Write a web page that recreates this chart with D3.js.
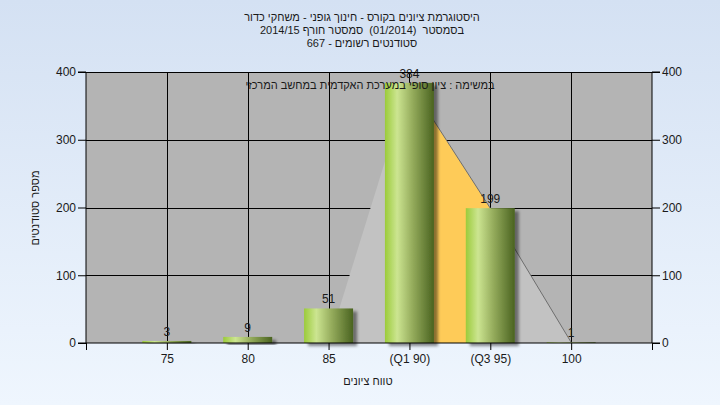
<!DOCTYPE html>
<html><head><meta charset="utf-8">
<script src="https://cdn.jsdelivr.net/npm/d3@7"></script>
<style>
html,body{margin:0;padding:0;}
svg{display:block;font-family:"Liberation Sans",Arial,sans-serif;}
text{white-space:pre;}
</style></head>
<body>
<script>
const titleLines = ["היסטוגרמת ציונים בקורס - חינוך גופני - משחקי כדור", "בסמסטר  (01/2014)  סמסטר חורף 2014/15", "סטודנטים רשומים - 667"];
const subtitle = "במשימה : ציון סופי במערכת האקדמית במחשב המרכזי";
const yTitle = "מספר סטודנטים";
const xTitle = "טווח ציונים";
const categories = ["75", "80", "85", "(Q1 90)", "(Q3 95)", "100"];
const counts = [3, 9, 51, 384, 199, 1];
const distribution = [0, 0, 0, 384, 199, 1];
const yTicks = [0, 100, 200, 300, 400];

(function(){
const W = 720, H = 405;
const svg = d3.select("body").append("svg").attr("width", W).attr("height", H);
const defs = svg.append("defs");
const bg = defs.append("linearGradient").attr("id","bg").attr("x1",0).attr("y1",0).attr("x2",0).attr("y2",1);
bg.append("stop").attr("offset","0%").attr("stop-color","#d4e1f3");
bg.append("stop").attr("offset","100%").attr("stop-color","#eff6fe");
const bar = defs.append("linearGradient").attr("id","bar").attr("x1",0).attr("y1",0).attr("x2",1).attr("y2",0);
[["0%","#9bcb3a"],["25%","#cce591"],["55%","#97ae5e"],["100%","#4a6320"]].forEach(s=>bar.append("stop").attr("offset",s[0]).attr("stop-color",s[1]));
const f = defs.append("filter").attr("id","sh").attr("x","-20%").attr("y","-20%").attr("width","150%").attr("height","150%");
f.append("feDropShadow").attr("dx",4).attr("dy",3).attr("stdDeviation",1.8).attr("flood-color","#000").attr("flood-opacity",0.45);

svg.append("rect").attr("width",W).attr("height",H).attr("fill","url(#bg)");

const pl = 86, pr = 652, pt = 72, pb = 343;
const domain = ["_a", ...categories, "_b"];
const x = d3.scalePoint().domain(domain).range([pl, pr]);
const y = d3.scaleLinear().domain([0, 400]).range([pb, pt]);

svg.append("rect").attr("x",pl).attr("y",pt).attr("width",pr-pl).attr("height",pb-pt).attr("fill","#b4b4b4");

// gridlines
const g = svg.append("g").attr("stroke","#000").attr("stroke-width",1);
yTicks.filter(d=>d>0).forEach(v=>g.append("line").attr("x1",pl).attr("x2",pr).attr("y1",Math.round(y(v))+0.5).attr("y2",Math.round(y(v))+0.5));
categories.forEach(c=>g.append("line").attr("x1",Math.round(x(c))+0.5).attr("x2",Math.round(x(c))+0.5).attr("y1",pt).attr("y2",pb));

// distribution area
const pts = categories.map((c,i)=>[x(c), y(distribution[i])]);
const area = d3.area().x(d=>d[0]).y0(pb).y1(d=>d[1]);
svg.append("path").attr("d", area(pts.slice(2))).attr("fill","#c2c2c2");
svg.append("path").attr("d", area(pts.slice(3,5))).attr("fill","#fecb58");
svg.append("path").attr("d", d3.line()(pts.slice(3))).attr("fill","none").attr("stroke","#6e6e6e").attr("stroke-width",1);

// bars
const bw = 49;
svg.append("g").selectAll("rect").data(categories).join("rect")
  .attr("x", c=>x(c)-bw/2).attr("width", bw)
  .attr("y", (c,i)=>y(counts[i])).attr("height",(c,i)=>pb-y(counts[i]))
  .attr("fill","url(#bar)").attr("filter","url(#sh)");

// value labels
svg.append("g").selectAll("text").data(categories).join("text")
  .attr("x", c=>x(c)).attr("y",(c,i)=>y(counts[i])-5)
  .attr("text-anchor","middle").attr("font-size",12).attr("fill","#1a1a1a")
  .text((c,i)=>counts[i]);

// axes
const axL = svg.append("g").attr("transform",`translate(${pl},0)`)
  .call(d3.axisLeft(y).tickValues(yTicks).tickSize(8).tickPadding(2));
const axR = svg.append("g").attr("transform",`translate(${pr},0)`)
  .call(d3.axisRight(y).tickValues(yTicks).tickSize(8).tickPadding(2));
const axB = svg.append("g").attr("transform",`translate(0,${pb})`)
  .call(d3.axisBottom(x).tickSize(7).tickPadding(4).tickFormat(d=>d.startsWith("_")?"":d));
[axL,axR,axB].forEach(a=>{
  a.select(".domain").attr("stroke","#000").attr("stroke-width",1);
  a.selectAll(".tick line").attr("stroke","#000");
  a.selectAll("text").attr("font-size",12).attr("fill","#1a1a1a").attr("font-family","Liberation Sans, Arial, sans-serif");
});
axL.select(".domain").attr("d",`M-8,${pt}H0V${pb}H-8`);
axR.select(".domain").attr("d",`M8,${pt}H0V${pb}H8`);
axB.select(".domain").attr("d",`M${pl},0H${pr}`);

svg.append("line").attr("x1",pl).attr("x2",pr).attr("y1",pt+0.5).attr("y2",pt+0.5).attr("stroke","#000");

// titles
const hs = 11;
titleLines.forEach((t,i)=>svg.append("text").attr("x",362).attr("y",21+i*13)
  .attr("text-anchor","middle").attr("direction","rtl").attr("font-size",hs).attr("fill","#1a1a1a").text(t));
svg.append("text").attr("x",370).attr("y",89).attr("text-anchor","middle").attr("direction","rtl")
  .attr("font-size",hs).attr("fill","#1a1a1a").text(subtitle);
svg.append("text").attr("x",368).attr("y",385).attr("text-anchor","middle").attr("direction","rtl")
  .attr("font-size",hs).attr("fill","#1a1a1a").text(xTitle);
svg.append("text").attr("transform","translate(39,208) rotate(-90)").attr("text-anchor","middle").attr("direction","rtl")
  .attr("font-size",hs).attr("fill","#1a1a1a").text(yTitle);
})();
</script>
</body></html>
